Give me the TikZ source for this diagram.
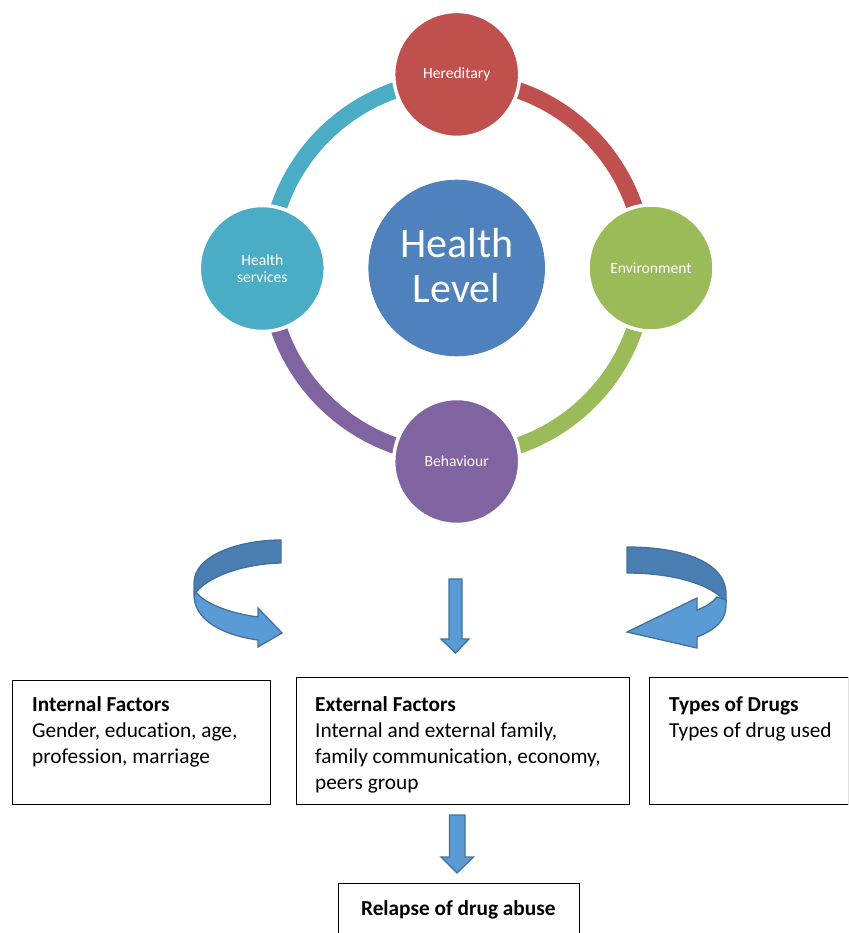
\documentclass[tikz,border=0pt]{standalone}
\usepackage{fontspec}
\setmainfont{Carlito}[Ligatures=NoCommon]
\usetikzlibrary{calc}

\definecolor{hered}{HTML}{C0504D}
\definecolor{envir}{HTML}{9BBB59}
\definecolor{behav}{HTML}{8064A2}
\definecolor{hserv}{HTML}{4BACC6}
\definecolor{hlevel}{HTML}{4F81BD}
\definecolor{arrowfill}{HTML}{5B9BD5}
\definecolor{arrowback}{HTML}{4A7DB1}
\definecolor{arrowline}{HTML}{41719C}

\begin{document}
\begin{tikzpicture}[x=1pt,y=-1pt,
  factor/.style={circle, fill=#1, draw=white, line width=3.5pt, minimum size=126pt,
    inner sep=0pt, text=white, font=\fontsize{15.6}{17}\selectfont, align=center},
  ringarc/.style={line width=16.5pt, draw=#1},
  centretext/.style={anchor=base, inner sep=0pt, text=white, font=\fontsize{42}{44}\selectfont},
  box/.style={draw=black, line width=1.2pt, anchor=north west, inner sep=0pt},
  title/.style={anchor=base west, inner sep=0pt, font=\fontsize{21.3}{26}\selectfont\bfseries},
  body/.style={anchor=base west, inner sep=0pt, font=\fontsize{21.3}{26}\selectfont},
  blockarrow/.style={fill=arrowfill, draw=arrowline, line width=1.3pt, line join=miter},
  backarrow/.style={fill=arrowback, draw=arrowline, line width=1.3pt, line join=round}
]
\useasboundingbox (0,0) rectangle (848,933);
\clip (0,0) rectangle (848,933);

% ---- ring of coloured arcs behind the factor circles
\coordinate (ringc) at (456.7,268);
\draw[ringarc=hered] ($(ringc)+(0,-188)$) arc[start angle=-90, end angle=0,   radius=188];
\draw[ringarc=envir] ($(ringc)+(188,0)$)  arc[start angle=0,   end angle=90,  radius=188];
\draw[ringarc=behav] ($(ringc)+(0,188)$)  arc[start angle=90,  end angle=180, radius=188];
\draw[ringarc=hserv] ($(ringc)+(-188,0)$) arc[start angle=180, end angle=270, radius=188];

% ---- factor circles
\node[factor=hered] (hered) at (456.7,74.4)  {Hereditary};
\node[factor=envir] (envir) at (651,268)     {Environment};
\node[factor=behav] (behav) at (456.7,461.5) {Behaviour};
\node[factor=hserv] (hserv) at (262.3,268.5) {Health\\services};

% ---- centre
\node[circle, fill=hlevel, minimum size=176.6pt, inner sep=0pt] (hlevel) at (456.7,268) {};
\node[centretext] (hlevel1) at (456.7,257.5) {Health};
\node[centretext] (hlevel2) at (456.7,302.3) {Level};

% ---- left curved arrow
\path[backarrow] (281,540) .. controls (240,540) and (194,555) .. (194,583)
  -- (194,595) .. controls (205,578) and (240,564) .. (281,563) -- cycle;
\path[blockarrow] (196,592) .. controls (204,603) and (228,613) .. (258,617)
  -- (258,608) -- (282,633) -- (258,647) -- (258,640)
  .. controls (222,635) and (195,620) .. (194,596) -- cycle;

% ---- right curved arrow
\path[backarrow] (627,547) .. controls (682,547) and (726,562) .. (726,594)
  -- (726,602) .. controls (712,585) and (675,573) .. (627,573) -- cycle;
\path[blockarrow] (717,597) .. controls (712,603) and (705,607) .. (697,610)
  -- (697,598) -- (627,632) -- (697,648) -- (697,637)
  .. controls (715,630) and (726,620) .. (726,606) -- (726,600) -- cycle;

% ---- boxes
\node[box, minimum width=258pt, minimum height=124pt] (internal) at (12,680) {};
\node[box, minimum width=333pt, minimum height=127pt] (external) at (296,677) {};
\node[box, minimum width=199pt, minimum height=127pt] (drugs)    at (649,677) {};
\node[box, minimum width=241pt, minimum height=70pt]  (relapse)  at (338,883) {};

% ---- straight block arrows
\path[blockarrow] (449,579) -- (462,579) -- (462,639) -- (469,639) -- (455.5,653)
  -- (441,639) -- (449,639) -- cycle;
\path[blockarrow] (449.5,815) -- (465,815) -- (465,857) -- (473.5,857) -- (457,873)
  -- (441,857) -- (449.5,857) -- cycle;

% ---- box texts
\node[title] (intT)  at (32,711) {Internal Factors};
\node[body]  (intB1) at (32,737) {Gender, education, age,};
\node[body]  (intB2) at (32,763) {profession, marriage};

\node[title] (extT)  at (315,711) {External Factors};
\node[body]  (extB1) at (315,737) {Internal and external family,};
\node[body]  (extB2) at (315,763) {family communication, economy,};
\node[body]  (extB3) at (315,789) {peers group};

\node[title] (drgT)  at (669,711) {Types of Drugs};
\node[body]  (drgB1) at (669,737) {Types of drug used};

\node[title, anchor=base] (relT) at (458.3,915) {Relapse of drug abuse};
\end{tikzpicture}
\end{document}
